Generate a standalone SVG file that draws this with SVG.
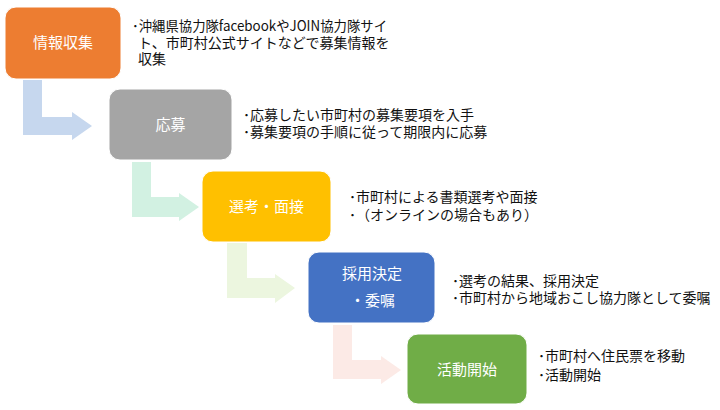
<svg xmlns="http://www.w3.org/2000/svg" width="720" height="410" viewBox="0 0 720 410">
<style>
.box{stroke:#ffffff;stroke-width:1}
.lbl{font-family:"Noto Sans CJK JP","Noto Sans",sans-serif;font-size:15px;fill:#ffffff;text-anchor:middle}
.desc{font-family:"Noto Sans CJK JP","Noto Sans",sans-serif;font-size:14px;fill:#111111}
</style>
<rect width="720" height="410" fill="#ffffff"/>
<g id="connectors">
<path d="M23,80 H42 V117 H72 V112 L92,126 L72,140 V135 H23 Z" fill="#C6D7EE"/>
<path d="M132,162 H151 V197 H179 V193 L199,207 L179,221 V217 H132 Z" fill="#D2F1E2"/>
<path d="M227,243 H247 V278 H275 V274 L295,288 L275,303 V298 H227 Z" fill="#ECF6DF"/>
<path d="M333,325 H352 V360 H381 V356 L401,370 L381,384 V379 H333 Z" fill="#FCEAE6"/>
</g>
<g id="node1">
<rect class="box" x="5" y="7" width="116" height="72" rx="11" fill="#ED7D31"/>
<text class="lbl" x="63" y="48">情報収集</text>
<text class="desc" x="132" y="31" textLength="255" lengthAdjust="spacingAndGlyphs">･沖縄県協力隊facebookやJOIN協力隊サイ</text>
<text class="desc" x="138" y="48">ト、市町村公式サイトなどで募集情報を</text>
<text class="desc" x="138" y="64">収集</text>
</g>
<g id="node2">
<rect class="box" x="109" y="89" width="123" height="71" rx="11" fill="#A5A5A5"/>
<text class="lbl" x="170.5" y="130">応募</text>
<text class="desc" x="243" y="120">･応募したい市町村の募集要項を入手</text>
<text class="desc" x="243" y="137">･募集要項の手順に従って期限内に応募</text>
</g>
<g id="node3">
<rect class="box" x="202" y="171" width="129" height="71" rx="11" fill="#FFC000"/>
<text class="lbl" x="266.5" y="212">選考・面接</text>
<text class="desc" x="349" y="202">･市町村による書類選考や面接</text>
<text class="desc" x="349" y="220">･（オンラインの場合もあり）</text>
</g>
<g id="node4">
<rect class="box" x="308" y="252" width="127" height="71" rx="11" fill="#4472C4"/>
<text class="lbl" x="372" y="279">採用決定</text>
<text class="lbl" x="372.5" y="306">・委嘱</text>
<text class="desc" x="452" y="286">･選考の結果、採用決定</text>
<text class="desc" x="452" y="303">･市町村から地域おこし協力隊として委嘱</text>
</g>
<g id="node5">
<rect class="box" x="407" y="334" width="120" height="70" rx="11" fill="#70AD47"/>
<text class="lbl" x="467" y="375">活動開始</text>
<text class="desc" x="538" y="361">･市町村へ住民票を移動</text>
<text class="desc" x="538" y="380">･活動開始</text>
</g>
</svg>
